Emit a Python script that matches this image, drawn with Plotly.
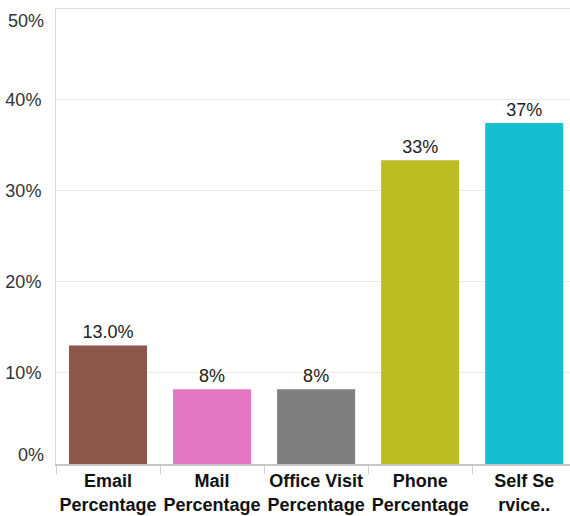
import plotly.graph_objects as go

categories = ["Email Percentage", "Mail Percentage", "Office Visit Percentage",
              "Phone Percentage", "Self Service Percentage"]
tick_labels = ["Email<br>Percentage", "Mail<br>Percentage", "Office Visit<br>Percentage",
               "Phone<br>Percentage", "Self Se<br>rvice.."]
values = [13.0, 8.2, 8.2, 33.3, 37.4]
value_labels = ["13.0%", "8%", "8%", "33%", "37%"]
colors = ["#8c564b", "#e377c2", "#7f7f7f", "#bcbd22", "#17becf"]
y_ticks = [0, 10, 20, 30, 40, 50]
y_tick_text = ["0%", "10%", "20%", "30%", "40%", "50%"]

FONT = "Liberation Sans, Arial, sans-serif"

fig = go.Figure()
fig.add_trace(go.Bar(
    x=categories, y=values, marker=dict(color=colors, line=dict(width=0)),
    text=value_labels, textposition="outside", cliponaxis=False,
    textfont=dict(family=FONT, size=18, color="#222"), width=0.75,
    hoverinfo="skip",
))

# end labels of y axis shifted inward (as in reference)
shifts = {0: 9, 50: -13}
annotations = []
for v, t in zip(y_ticks, y_tick_text):
    if v in shifts:
        annotations.append(dict(
            x=0, xref="paper", xanchor="right", xshift=-10,
            y=v, yref="y", yshift=shifts[v], yanchor="middle",
            text=t, showarrow=False,
            font=dict(family=FONT, size=18, color="#333")))

fig.update_layout(
    width=570, height=516,
    margin=dict(l=56, r=0, t=8, b=52),
    paper_bgcolor="white", plot_bgcolor="white",
    showlegend=False, bargap=0.25,
    annotations=annotations,
    xaxis=dict(
        type="category", categoryorder="array", categoryarray=categories,
        tickvals=categories, ticktext=tick_labels, tickangle=0,
        range=[-0.5, 4.44], automargin=False,
        tickson="boundaries", ticks="outside", ticklen=8, tickcolor="#d0d0d0",
        ticklabelstandoff=0,
        tickfont=dict(family=FONT, size=18, color="#111", weight="bold"),
        showgrid=False, showline=True, linecolor="#c8c8c8", linewidth=1.5,
        zeroline=False, fixedrange=True,
    ),
    yaxis=dict(
        range=[0, 50], automargin=False,
        tickvals=[10, 20, 30, 40], ticktext=["10%", "20%", "30%", "40%"],
        tickfont=dict(family=FONT, size=18, color="#333"),
        ticks="", ticklabelstandoff=10,
        showgrid=True, gridcolor="#ebebeb", gridwidth=1,
        showline=True, linecolor="#dddddd", linewidth=1,
        zeroline=False, fixedrange=True,
    ),
    shapes=[dict(type="line", xref="paper", yref="y", x0=0, x1=1, y0=50, y1=50,
                 line=dict(color="#dcdcdc", width=2))],
)

fig.write_html(
    "out.html",
    config={"displayModeBar": False},
    post_script="document.body.style.margin='0';document.body.style.overflow='hidden';",
)
